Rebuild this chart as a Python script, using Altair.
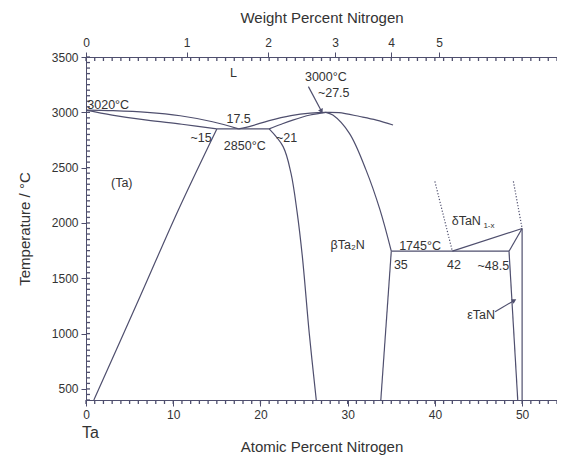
import altair as alt
import pandas as pd

# ---------------- data ----------------
liq_ta_x = [0, 3.1, 7.0, 10.8, 14.5, 17.5]
liq_ta_T = [3020, 3015, 3000, 2969, 2915, 2850]

sol_ta_x = [0, 3, 7, 11, 15]
sol_ta_T = [3020, 2975, 2930, 2892, 2850]

solvus_ta_x = [15, 10.6, 6.2, 0.9]
solvus_ta_T = [2850, 2120, 1335, 400]

liq_ta2n_x = [17.5, 19, 21, 23.5, 25.7, 27.5, 29, 31.4, 33.3, 35.2]
liq_ta2n_T = [2850, 2878, 2925, 2970, 2993, 3000, 2997, 2962, 2930, 2885]

eut_x = [15, 21]
eut_T = [2850, 2850]

sol_ta2n_x = [21, 22.3, 23.7, 25.7, 27.5]
sol_ta2n_T = [2850, 2890, 2930, 2976, 3000]

ta2n_left_x = [21, 22.6, 23.5, 24.2, 24.8, 25.6, 26.4]
ta2n_left_T = [2850, 2690, 2450, 2100, 1700, 1000, 400]

ta2n_right_x = [27.5, 28.3, 30.2, 32.1, 33.7, 35]
ta2n_right_T = [3000, 2975, 2810, 2480, 2120, 1745]

ta2n_low_x = [35, 33.8]
ta2n_low_T = [1745, 400]

per_x = [35, 48.5]
per_T = [1745, 1745]

delta_x = [42, 50]
delta_T = [1745, 1950]

eps_top_x = [48.5, 50]
eps_top_T = [1745, 1950]

n50_x = [50, 50]
n50_T = [1950, 400]

eps_left_x = [48.5, 49.5]
eps_left_T = [1745, 400]

dot1_x = [40, 42]
dot1_T = [2375, 1745]
dot2_x = [49, 50]
dot2_T = [2375, 1950]

arrow1_x = [25.5, 27.0]
arrow1_T = [3232, 3010]
arrow2_x = [46.9, 49.1]
arrow2_T = [1198, 1300]

# text annotations
lab_text = ["L", "3000°C", "~27.5", "3020°C", "17.5", "~15", "2850°C", "~21",
            "(Ta)", "βTa₂N", "1745°C", "35", "42", "~48.5", "δTaN", "εTaN"]
lab_x = [16.9, 27.5, 28.4, 0.15, 17.5, 13.2, 18.2, 23.0,
         4.1, 30.0, 38.3, 36.1, 42.2, 46.7, 43.6, 45.3]
lab_T = [3355, 3320, 3175, 3066, 2940, 2765, 2698, 2771,
         2358, 1801, 1792, 1620, 1620, 1611, 2017, 1168]
lab_align = ["center", "center", "center", "left", "center", "center", "center", "center",
             "center", "center", "center", "center", "center", "center", "center", "center"]
sub_text = ["1-x"]
sub_x = [46.2]
sub_T = [1975]

# axis tick values
at_major = [0, 10, 20, 30, 40, 50]
at_minor = list(range(0, 55))
wt_ticks = [0, 1, 2, 3, 4, 5]
T_major = [500, 1000, 1500, 2000, 2500, 3000, 3500]
T_minor = list(range(400, 3501, 50))

M_N, M_TA = 14.007, 180.948
wt_at = [100 * (w / M_N) / (w / M_N + (100 - w) / M_TA) for w in wt_ticks]

X0, X1, T0, T1 = 0, 54, 400, 3500
W, H = 471, 343
PX_X = (X1 - X0) / W      # data units per pixel (x)
PX_T = (T1 - T0) / H      # data units per pixel (T)

# ---------------- build tables ----------------
curved = [
    (liq_ta_x, liq_ta_T), (sol_ta_x, sol_ta_T), (solvus_ta_x, solvus_ta_T),
    (liq_ta2n_x, liq_ta2n_T), (sol_ta2n_x, sol_ta2n_T),
    (ta2n_left_x, ta2n_left_T), (ta2n_right_x, ta2n_right_T),
]
straight = [
    (eut_x, eut_T), (ta2n_low_x, ta2n_low_T), (per_x, per_T),
    (delta_x, delta_T), (eps_top_x, eps_top_T), (n50_x, n50_T), (eps_left_x, eps_left_T),
    (arrow1_x, arrow1_T), (arrow2_x, arrow2_T),
]


def to_df(segs):
    rows = []
    for i, (xs_, ts) in enumerate(segs):
        for j, (a, t) in enumerate(zip(xs_, ts)):
            rows.append({"seg": i, "o": j, "x": a, "T": t})
    return pd.DataFrame(rows)


curved_df = to_df(curved)
straight_df = to_df(straight)
dots_df = to_df([(dot1_x, dot1_T), (dot2_x, dot2_T)])

# minor tick segments built from the tick-value lists (length is a style in pixels)
tick_segs = []
for v in at_minor:
    tick_segs.append(([v, v], [T0, T0 - 4 * PX_T]))      # bottom, outward
    tick_segs.append(([v, v], [T1, T1 - 4 * PX_T]))      # top, inward
for v in T_minor:
    tick_segs.append(([X0, X0 + 4 * PX_X], [v, v]))      # left, inward
ticks_df = to_df(tick_segs)

labels_df = pd.DataFrame({"t": lab_text, "x": lab_x, "T": lab_T, "al": lab_align})
sub_df = pd.DataFrame({"t": sub_text, "x": sub_x, "T": sub_T})
heads_df = pd.DataFrame({"x": [arrow1_x[-1], arrow2_x[-1]], "T": [arrow1_T[-1], arrow2_T[-1]],
                         "ang": [152, 60]})

LINE = "#4f4f6e"
TXT = "#333333"
FONT = "Liberation Sans"
xs = alt.Scale(domain=[X0, X1], nice=False, zero=False)
ys = alt.Scale(domain=[T0, T1], nice=False, zero=False)

common_axis = dict(grid=False, labelFont=FONT, labelColor=TXT, labelFontSize=12,
                   titleFont=FONT, titleColor=TXT, titleFontWeight="normal",
                   domainColor=LINE, tickColor=LINE, labelOverlap=False, labelFlush=False)

x_bottom = alt.X("x:Q", scale=xs, axis=alt.Axis(
    orient="bottom", values=at_major, tickSize=6, format="d",
    title="Atomic Percent Nitrogen", titleFontSize=15, titlePadding=19, labelPadding=3,
    **common_axis))
y_left = alt.Y("T:Q", scale=ys, axis=alt.Axis(
    orient="left", values=T_major, tickSize=5, format="d", title="Temperature / °C",
    titleFontSize=15, titlePadding=19, labelPadding=3, **common_axis))

nox = alt.X("x:Q", scale=xs, axis=None)
noy = alt.Y("T:Q", scale=ys, axis=None)

curves = alt.Chart(curved_df).mark_line(color=LINE, strokeWidth=1.2,
                                        interpolate="catmull-rom").encode(
    x=x_bottom, y=y_left, detail="seg:N", order="o:Q")

lines = alt.Chart(straight_df).mark_line(color=LINE, strokeWidth=1.2).encode(
    x=nox, y=noy, detail="seg:N", order="o:Q")

ticks = alt.Chart(ticks_df).mark_line(color=LINE, strokeWidth=1.3).encode(
    x=nox, y=noy, detail="seg:N", order="o:Q")

dots = alt.Chart(dots_df).mark_line(color=LINE, strokeWidth=1.2, strokeDash=[1.2, 1.8]).encode(
    x=nox, y=noy, detail="seg:N", order="o:Q")

heads = alt.Chart(heads_df).mark_point(shape="triangle-up", filled=True, color=LINE,
                                       size=28, opacity=1).encode(
    x=nox, y=noy, angle=alt.Angle("ang:Q", scale=None))

texts_c = alt.Chart(labels_df[labels_df.al == "center"]).mark_text(
    font=FONT, fontSize=12.5, color=TXT, baseline="middle", align="center").encode(
    x=nox, y=noy, text="t:N")
texts_l = alt.Chart(labels_df[labels_df.al == "left"]).mark_text(
    font=FONT, fontSize=12.5, color=TXT, baseline="middle", align="left").encode(
    x=nox, y=noy, text="t:N")
subs = alt.Chart(sub_df).mark_text(font=FONT, fontSize=8, color=TXT, baseline="middle",
                                   align="center").encode(
    x=nox, y=noy, text="t:N")

ta = alt.Chart(pd.DataFrame({"t": ["Ta"], "x": [0.5]})).mark_text(
    font=FONT, fontSize=16, color=TXT, baseline="middle", align="center").encode(
    x=nox, y=alt.value(H + 33), text="t:N")

top_wt = alt.Chart(pd.DataFrame({"x": [0.0]})).mark_point(opacity=0).encode(
    x=alt.X("x:Q", scale=xs, axis=alt.Axis(
        orient="top", values=wt_at, tickSize=5,
        labelExpr="format(100*14.007*datum.value/(14.007*datum.value+180.948*(100-datum.value)), '.0f')",
        title="Weight Percent Nitrogen", titleFontSize=15, titlePadding=11, labelPadding=3,
        **common_axis)))

chart = alt.layer(curves, lines, ticks, dots, heads, texts_c, texts_l, subs, ta,
                  top_wt).resolve_axis(
    x="independent", y="independent").properties(
    width=W, height=H,
    autosize=alt.AutoSizeParams(type="none"),
    padding={"left": 78, "top": 49, "right": 0, "bottom": 57},
).configure_view(stroke=None).configure(background="white")

chart.save("out.html", embed_options={"renderer": "svg", "actions": False})
